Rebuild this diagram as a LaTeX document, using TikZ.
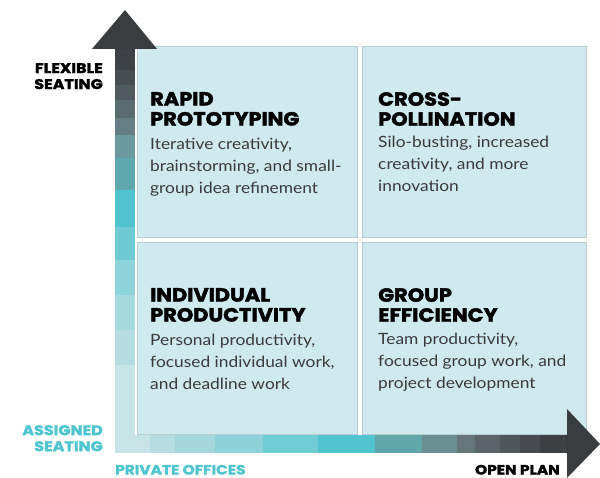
\documentclass[tikz,border=0pt]{standalone}
\usepackage{fontspec}
\newfontfamily\tfont{Poppins}[FakeBold=2.2,FakeStretch=1.1]
\newfontfamily\afont{Poppins}[FakeBold=2.0,FakeStretch=1.14]
\newfontfamily\bfontfam{Lato}[FakeStretch=1.12]
\definecolor{quad}{HTML}{CFEAEE}
\definecolor{quadedge}{HTML}{B9CDD0}
\definecolor{darkc}{HTML}{3A3D40}
\definecolor{labcyan}{HTML}{4FC5D2}
\definecolor{bodyc}{HTML}{3A3A3A}
\tikzset{
  quadbox/.style={fill=quad, draw=quadedge, line width=0.6pt},
  titletext/.style={anchor=north west, inner sep=0pt, align=left, font=\tfont\bfseries\fontsize{19}{20}\selectfont, text=black},
  bodytext/.style={anchor=north west, inner sep=0pt, align=left, font=\bfontfam\fontsize{15.5}{22}\selectfont, text=bodyc},
  axislab/.style={inner sep=0pt, align=right, font=\afont\bfseries\fontsize{14}{16}\selectfont},
  bottomlab/.style={inner sep=0pt, font=\afont\bfseries\fontsize{13.5}{15}\selectfont},
}
\begin{document}
\begin{tikzpicture}[x=1pt,y=-1pt]
\useasboundingbox (0,0) rectangle (600,478);
% quadrants
\path[quadbox] (137,46) rectangle (357,237);
\path[quadbox] (362,46) rectangle (586,237);
\path[quadbox] (137,242) rectangle (357,434);
\path[quadbox] (362,242) rectangle (586,434);
% horizontal stepped bar: x0/x1/color
\foreach \xa/\xb/\c in {115/150/C8E3E6,150/175/B5DDE2,175/215/A3D7DD,215/263/8ED2D9,263/318/6FCBD4,318/375/4FC4CF,375/422/5FA7AB,422/457/6A8E92,457/475/66777B,475/500/5A6469,500/520/50575B,520/540/474B4F,540/568/3E4144}{
  \definecolor{blk}{HTML}{\c}
  \fill[blk] (\xa,435) rectangle ([xshift=0.4pt]\xb,453);
}
\fill[darkc] (567,409) -- (600,444) -- (567,478) -- (567,453) -- (566,453) -- (566,435) -- (567,435) -- cycle;
% vertical stepped bar: y0/y1/color
\foreach \ya/\yb/\c in {453/365/C7E4E7,365/330/B5DDE1,330/295/A4D9DE,295/260/8ED3DA,260/227/6FCBD3,227/190/4FC4CF,190/158/5FA9AE,158/135/6A9A9E,135/118/667F84,118/100/5A6C70,100/85/50595D,85/70/474D51,70/48/3E4246}{
  \definecolor{blk}{HTML}{\c}
  \fill[blk] (115,\ya) rectangle (135,\yb-0.4);
}
\fill[darkc] (92,49) -- (125,10) -- (157,49) -- (135,49) -- (135,50) -- (115,50) -- (115,49) -- cycle;
% titles and bodies
\node[titletext] (t1) at (150,92) {RAPID\\PROTOTYPING};
\node[bodytext] (b1) at (150,138) {Iterative creativity,\\brainstorming, and small-\\group idea refinement};
\node[titletext] (t2) at (378,92) {CROSS-\\POLLINATION};
\node[bodytext] (b2) at (378,136) {Silo-busting, increased\\creativity, and more\\innovation};
\node[titletext] (t3) at (150,288) {INDIVIDUAL\\PRODUCTIVITY};
\node[bodytext] (b3) at (150,334) {Personal productivity,\\focused individual work,\\and deadline work};
\node[titletext] (t4) at (378,288) {GROUP\\EFFICIENCY};
\node[bodytext] (b4) at (378,333) {Team productivity,\\focused group work, and\\project development};
% axis labels
\node[axislab, anchor=north east, text=black] (fs) at (103,63) {FLEXIBLE\\SEATING};
\node[axislab, anchor=north east, text=labcyan] (as) at (103,425) {ASSIGNED\\SEATING};
\node[bottomlab, anchor=base west, text=labcyan] (po) at (115,474.5) {PRIVATE OFFICES};
\node[bottomlab, anchor=base east, text=black] (op) at (560,474.5) {OPEN PLAN};
\end{tikzpicture}
\end{document}
